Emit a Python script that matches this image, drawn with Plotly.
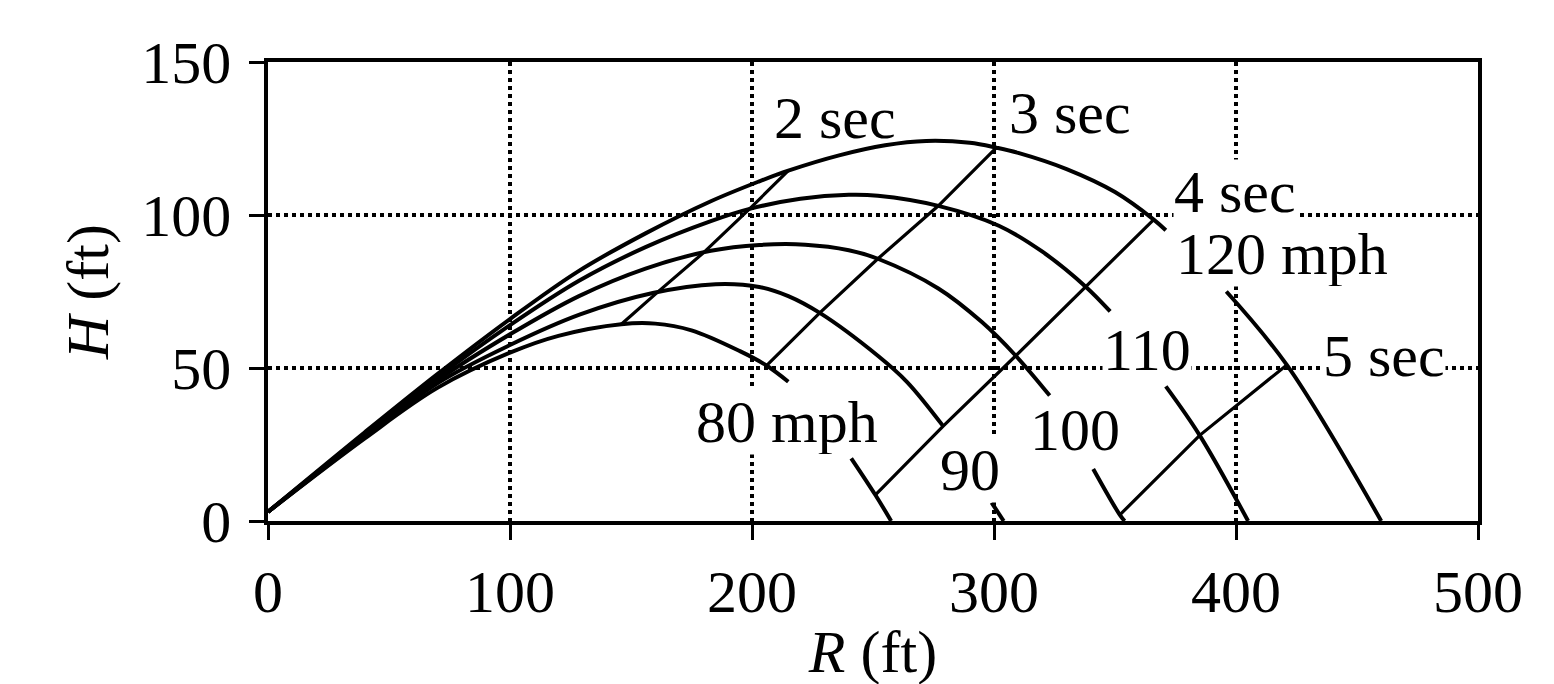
import plotly.graph_objects as go

# ---- trajectory data (R ft, H ft); None marks a break where a label sits ----
R80 = [0, 40, 70, 100, 120, 146, 160, 175, 195, 206, 215, None, 241, 251, 257.5]
H80 = [3, 27, 43.5, 55, 60.5, 64.3, 64.5, 62.3, 55.5, 50.8, 45.5, None, 20.5, 8.5, 0]

R90 = [0, 40, 70, 100, 129, 159, 185, 203, 215, 228, 252, 264, 279, None, 299, 304]
H90 = [3, 27.5, 45, 57.5, 67.5, 74.5, 77.4, 76.5, 73.5, 68, 54, 45.5, 31, None, 6, 0]

R100 = [0, 40, 70, 100, 128.5, 156, 183, 203, 222, 240, 252, 277, 295, 309, 323, None, 341, 352, 354]
H100 = [3, 28, 46, 61, 73.5, 82.5, 88.3, 90.2, 90.3, 88.5, 85.7, 76, 65, 54, 41, None, 17, 2, 0]

R110 = [0, 40, 70, 100, 128.5, 156, 183, 199, 220, 240, 252, 277, 302, 320, 338, 348, None, 371, 385, 405]
H110 = [3, 28.5, 47, 64, 78.5, 89.5, 98, 102, 105.3, 106.6, 106.3, 103, 96.5, 88, 76.5, 68.5, None, 44, 28, 0]

R120 = [0, 40, 70, 100, 128, 156, 183, 203, 215, 236, 255, 272, 290, 301, 310, 330, 350, 366, 371, None, 396, 421, 460]
H120 = [3, 29, 48, 66, 81.5, 94, 104.5, 111, 114.5, 119.5, 122.8, 124.2, 123.6, 122, 120.3, 115, 107.5, 98.5, 95, None, 75, 51, 0]

# ---- constant-time lines ----
R2s = [146, 161, 180, 199, 215]
H2s = [64.3, 74.8, 87.7, 102, 114.5]
R3s = [206, 228, 252, 277, 301]
H3s = [50.8, 68, 85.7, 103, 122]
R4s = [251, 279, 309, 338, 366]
H4s = [8.5, 31, 54, 76.5, 98.5]
R5s = [352, 385, 421]
H5s = [2, 28, 51]

# ---- labels ----
label_text = ["2 sec", "3 sec", "4 sec", "120 mph", "110", "5 sec", "100", "80 mph", "90"]
label_R = [234.3, 331.4, 399.6, 419, 363.2, 461, 333.5, 214.5, 290]
label_H = [131.7, 133.3, 107.5, 87.3, 56, 54, 29.7, 32.4, 16.7]
label_masks = [False, False, True, True, True, True, True, True, True]

x_ticks = [0, 100, 200, 300, 400, 500]
y_ticks = [0, 50, 100, 150]

FONT = "Liberation Serif, Times New Roman, serif"

fig = go.Figure()

speed_series = [(R80, H80, "80 mph"), (R90, H90, "90 mph"), (R100, H100, "100 mph"),
                (R110, H110, "110 mph"), (R120, H120, "120 mph")]
for rr, hh, nm in speed_series:
    fig.add_trace(go.Scatter(x=rr, y=hh, mode="lines", name=nm,
                             line=dict(color="black", width=4, shape="spline", smoothing=1.0),
                             connectgaps=False, hoverinfo="skip"))

time_series = [(R2s, H2s, "2 sec"), (R3s, H3s, "3 sec"), (R4s, H4s, "4 sec"), (R5s, H5s, "5 sec")]
for rr, hh, nm in time_series:
    fig.add_trace(go.Scatter(x=rr, y=hh, mode="lines", name=nm,
                             line=dict(color="black", width=3.2),
                             hoverinfo="skip"))

for t, xr, yh, m in zip(label_text, label_R, label_H, label_masks):
    fig.add_annotation(x=xr, y=yh, xref="x", yref="y", text=t, showarrow=False,
                       xanchor="center", yanchor="middle",
                       font=dict(family=FONT, size=60, color="black"),
                       bgcolor="white" if m else "rgba(0,0,0,0)",
                       borderpad=0, height=64, valign="middle")

axis_common = dict(showline=True, linecolor="black", linewidth=3.5, mirror=True,
                   showgrid=True, gridcolor="black", gridwidth=3.5, griddash="4px,4px",
                   zeroline=False, ticks="outside", ticklen=15, tickwidth=3, tickcolor="black",
                   tickfont=dict(family=FONT, size=60, color="black"))

fig.update_xaxes(range=[0, 500], tickvals=x_ticks, ticktext=[str(v) for v in x_ticks],
                 title=dict(text="<i>R</i> (ft)", font=dict(family=FONT, size=60, color="black"), standoff=7),
                 **axis_common)
fig.update_yaxes(range=[0, 150], tickvals=y_ticks, ticktext=[str(v) for v in y_ticks],
                 ticklabelstandoff=6,
                 title=dict(text="<i>H</i> (ft)", font=dict(family=FONT, size=60, color="black"), standoff=14),
                 **axis_common)

fig.update_layout(width=1554, height=684, showlegend=False,
                  paper_bgcolor="white", plot_bgcolor="white",
                  margin=dict(l=260, r=84, t=54, b=171, autoexpand=False))

fig.write_html("out.html")
